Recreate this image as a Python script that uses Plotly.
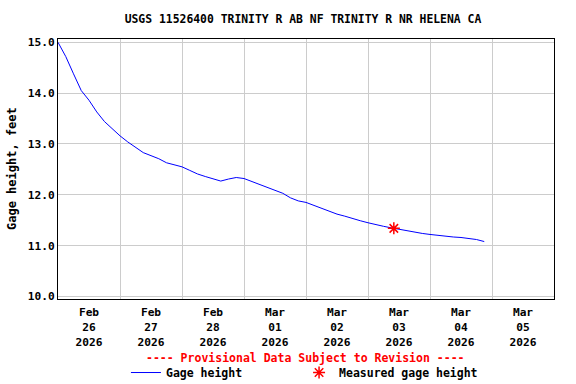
import plotly.graph_objects as go
import pandas as pd

# Gage height readings (ft), every 3 hours from 2026-02-26 00:00
start = "2026-02-26"
hours = [0, 3, 6, 9, 12, 15, 18, 21, 24, 27, 30, 33, 36, 39, 42, 45,
         48, 51, 54, 57, 60, 63, 66, 69, 72, 75, 78, 81, 84, 87, 90, 93,
         96, 99, 102, 105, 108, 111, 114, 117, 120, 123, 126, 129, 132, 135, 138, 141,
         144, 147, 150, 153, 156, 159, 162, 165]
heights = [15.00, 14.72, 14.38, 14.05, 13.86, 13.63, 13.44, 13.30,
           13.16, 13.04, 12.94, 12.83, 12.77, 12.71, 12.63, 12.59,
           12.55, 12.48, 12.41, 12.36, 12.31, 12.27, 12.31, 12.34,
           12.32, 12.26, 12.21, 12.15, 12.09, 12.03, 11.94, 11.88,
           11.85, 11.79, 11.73, 11.67, 11.62, 11.58, 11.53, 11.49,
           11.45, 11.41, 11.38, 11.35, 11.32, 11.29, 11.26, 11.24,
           11.22, 11.20, 11.19, 11.17, 11.16, 11.14, 11.12, 11.08]
times = [pd.Timestamp(start) + pd.Timedelta(hours=h) for h in hours]

meas_time = ["2026-03-03 10:00"]
meas_val = [11.34]

tick_vals = ["2026-02-26 12:00", "2026-02-27 12:00", "2026-02-28 12:00", "2026-03-01 12:00",
             "2026-03-02 12:00", "2026-03-03 12:00", "2026-03-04 12:00", "2026-03-05 12:00"]
tick_text = ["Feb<br>26<br>2026", "Feb<br>27<br>2026", "Feb<br>28<br>2026", "Mar<br>01<br>2026",
             "Mar<br>02<br>2026", "Mar<br>03<br>2026", "Mar<br>04<br>2026", "Mar<br>05<br>2026"]

FONT = "DejaVu Sans Mono"

fig = go.Figure()
fig.add_trace(go.Scatter(x=times, y=heights, mode="lines", name="Gage height",
                         line=dict(color="#0000ff", width=1), legend="legend"))
fig.add_trace(go.Scatter(x=meas_time, y=meas_val, mode="markers", name="Measured gage height",
                         marker=dict(symbol="asterisk", color="#ff0000", size=10,
                                     line=dict(color="#ff0000", width=1.5)),
                         legend="legend2"))

leg_common = dict(orientation="h", y=-0.227, yanchor="top", xanchor="left",
                  font=dict(family=FONT, size=11.5, weight="bold", color="black"),
                  bgcolor="rgba(0,0,0,0)", itemwidth=30)

fig.update_layout(
    width=576, height=384,
    margin=dict(l=58, r=22, t=39, b=85, autoexpand=False),
    paper_bgcolor="white", plot_bgcolor="white",
    font=dict(family=FONT, size=11, color="black", weight="bold"),
    title=dict(text="USGS 11526400 TRINITY R AB NF TRINITY R NR HELENA CA",
               x=0.526, xanchor="center", y=0.95, yanchor="middle",
               font=dict(family=FONT, size=11.4, color="black", weight="bold")),
    showlegend=True,
    legend=dict(x=0.137, **leg_common),
    legend2=dict(x=0.486, **leg_common),
    xaxis=dict(range=["2026-02-26", "2026-03-06"], tickvals=tick_vals, ticktext=tick_text,
               showgrid=False, ticks="", showline=True, linecolor="black", linewidth=1,
               mirror=True, tickfont=dict(family=FONT, size=11.2, weight="bold"),
               ticklabelstandoff=3,
               minor=dict(tick0="2026-02-26", dtick=86400000, showgrid=True,
                          gridcolor="#cccccc", gridwidth=1, ticks=""),
               zeroline=False),
    yaxis=dict(range=[9.95, 15.065], tickvals=[10, 11, 12, 13, 14, 15], tickformat=".1f",
               showgrid=True, gridcolor="#cccccc", gridwidth=1, ticks="",
               showline=True, linecolor="black", linewidth=1, mirror=True, zeroline=False,
               tickfont=dict(family=FONT, size=11.2, weight="bold")),
)

fig.add_annotation(text="Gage height, feet", textangle=-90,
                   xref="paper", yref="paper", x=-0.0927, y=0.5, xanchor="center", yanchor="middle",
                   showarrow=False, font=dict(family=FONT, size=12, color="black", weight="bold"))

fig.add_annotation(text="---- Provisional Data Subject to Revision ----",
                   xref="paper", yref="paper", x=0.499, y=-0.227, xanchor="center", yanchor="middle",
                   showarrow=False, font=dict(family=FONT, size=11.5, color="#ff0000", weight="bold"))

fig.write_html("out.html", config={"displayModeBar": False},
               post_script="document.body.style.margin='0';")
